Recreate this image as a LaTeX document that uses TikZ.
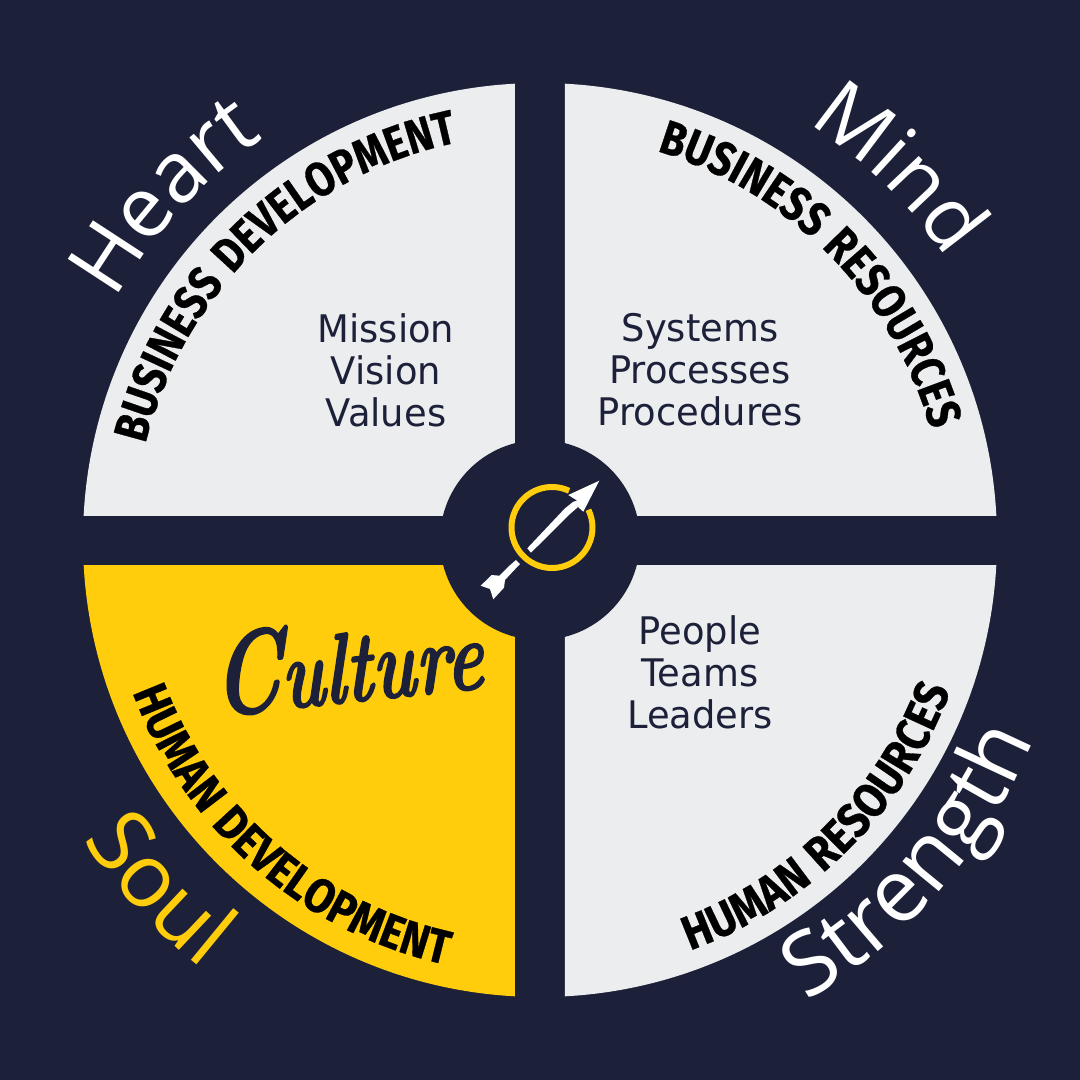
\documentclass[tikz,border=0pt]{standalone}
\usepackage{fontspec}
\usetikzlibrary{decorations.text}
\definecolor{navy}{HTML}{1C2139}
\definecolor{pale}{HTML}{ECEDEF}
\definecolor{gold}{HTML}{FFCD0B}
\newfontfamily\bebas[FakeStretch=0.84,LetterSpace=5,FakeBold=0.6]{Fira Sans Bold}
\newfontfamily\bebaswide[FakeStretch=0.88,LetterSpace=5,FakeBold=0.6]{Fira Sans Bold}
\newfontfamily\bodyf[FakeStretch=0.97]{DejaVu Sans}
\newfontfamily\bigf{Open Sans}
\newfontfamily\scriptf[BoldItalicFeatures={FakeBold=1.5,FakeSlant=0.12}]{Latin Modern Roman}
\newcommand{\bebastxt}{\bebas\fontsize{48}{48}\selectfont\color{black}}
\newcommand{\bebaslow}{\bebaswide\fontsize{48}{48}\selectfont\color{black}}
\newcommand{\bigtxt}{\bigf\fontsize{85}{85}\selectfont}
\newcommand{\midtxt}{\bigf\fontsize{82}{82}\selectfont}
\newcommand{\lowtxt}{\bigf\fontsize{88}{88}\selectfont}
\tikzset{
  x=1pt,y=1pt,
  listtext/.style={font=\bodyf\fontsize{38}{42}\selectfont,text=navy,align=center,anchor=center,inner sep=0pt},
}
\begin{document}
\begin{tikzpicture}
\fill[navy] (-540,-540) rectangle (540,540);
\useasboundingbox (-540,-540) rectangle (540,540);
\begin{scope}\clip (-540,25) rectangle (-25,540);\fill[pale] (0,0) circle[radius=457];\end{scope}
\begin{scope}\clip (25,25) rectangle (540,540);\fill[pale] (0,0) circle[radius=457];\end{scope}
\begin{scope}\clip (25,-25) rectangle (540,-540);\fill[pale] (0,0) circle[radius=457];\end{scope}
\begin{scope}\clip (-540,-25) rectangle (-25,-540);\fill[gold] (0,0) circle[radius=457];\end{scope}
\fill[navy] (0,0) circle[radius=100];
% big curved words
\path[decorate,decoration={text along path,text align=center,text={|\bigtxt\color{white}|Heart}}] (165.5:488) arc[start angle=165.5,end angle=109.5,radius=488];
\path[decorate,decoration={text along path,text align=center,text={|\midtxt\color{white}|Mind}}] (75:495) arc[start angle=75,end angle=17,radius=495];
\path[decorate,decoration={text along path,text align=center,text={|\lowtxt\color{gold}|Soul}}] (192.5:546) arc[start angle=192.5,end angle=252.5,radius=546];
\path[decorate,decoration={text along path,text align=center,text={|\lowtxt\color{white}|Strength}}] (-81:532) arc[start angle=-81,end angle=-1,radius=532];
% band captions
\path[decorate,decoration={text along path,text align=center,text={|\bebastxt|BUSINESS DEVELOPMENT}}] (175:406) arc[start angle=175,end angle=93,radius=406];
\path[decorate,decoration={text along path,text align=center,text={|\bebastxt|BUSINESS RESOURCES}}] (85.5:406) arc[start angle=85.5,end angle=3.5,radius=406];
\path[decorate,decoration={text along path,text align=center,text={|\bebaslow|HUMAN DEVELOPMENT}}] (188:435) arc[start angle=188,end angle=270,radius=435];
\path[decorate,decoration={text along path,text align=center,text={|\bebaslow|HUMAN RESOURCES}}] (-86:437) arc[start angle=-86,end angle=-4,radius=437];
% lists
\node[listtext] (mission) at (-154,170) {Mission\\Vision\\Values};
\node[listtext] (systems) at (160,170) {Systems\\Processes\\Procedures};
\node[listtext] (people) at (160,-132) {People\\Teams\\Leaders};
\node[rotate=6,text=navy,inner sep=0pt] (culture) at (-195,-122) {\scalebox{0.70}[1]{\scriptf\bfseries\itshape\fontsize{118}{118}\selectfont C\fontsize{100}{100}\selectfont ulture}};
% icon
\draw[gold,line width=6pt] (12,12.5)++(65:40.5) arc[start angle=65,end angle=386,radius=40.5];
\fill[white] (59.3,59.3) -- (28.3,45) -- (37.3,39.3) -- (33.3,38.3) -- (25,31.7) -- (-12.7,-8.3) -- (-9,-12.7) -- (30,26) -- (38,33) -- (43.3,28.3) -- cycle;
\fill[white] (-59.3,-45.7) -- (-48.3,-35) -- (-40.7,-35.7) -- (-31.7,-26.7) -- (-24,-20) -- (-20,-24) -- (-27.3,-31.7) -- (-35,-40) -- (-36,-47.7) -- (-46.7,-59.3) -- (-50,-49) -- cycle;
\end{tikzpicture}
\end{document}
